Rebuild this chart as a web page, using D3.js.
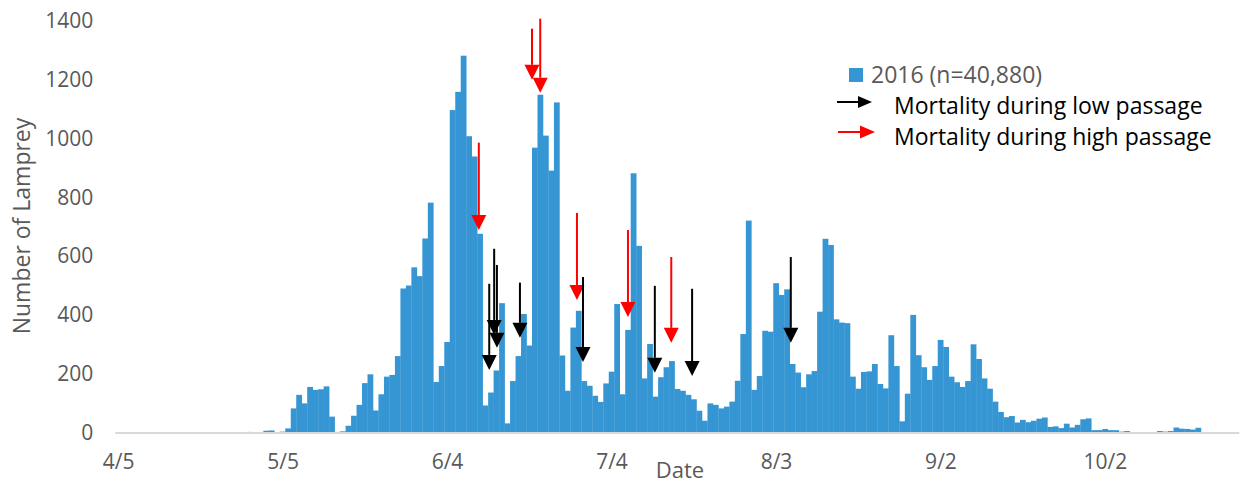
<!DOCTYPE html>
<meta charset="utf-8">
<script src="https://d3js.org/d3.v7.min.js"></script>
<body style="margin:0;background:#fff">
<svg width="1242" height="483"></svg>
<script>
  // daily lamprey counts, first value = 4/5/2016
  var counts = [
    0,0,0,0,0,0,0,0,0,0, 0,0,0,0,0,0,0,0,0,0, 0,0,0,0,
    2,0,0,6,7,0,3,14,
    82,128,99,155,145,147,157,54,2,4,
    23,57,94,168,198,75,130,190,196,260,
    490,500,562,532,660,782,172,226,308,1097,
    1159,1282,1008,939,676,92,136,211,440,31,
    175,260,403,296,969,1149,1010,891,1123,262,
    142,357,414,175,159,125,104,167,207,437,
    130,349,882,635,184,301,122,188,222,243,
    148,142,128,113,74,40,99,94,82,88,
    105,176,335,721,145,192,346,343,508,468,
    487,233,204,154,198,209,411,659,638,385,
    374,372,190,149,206,208,233,165,150,331,
    226,38,132,400,263,222,179,226,315,291,
    190,171,155,175,300,250,184,149,105,70,
    52,56,34,43,35,40,47,51,19,21,
    15,30,17,26,45,48,8,8,12,8,
    8,3,5,0,0,0,0,0,5,3,
    5,17,13,12,10,16,0,0,0,0,
    0,0,0
  ];
  var startDate = new Date(2016, 3, 5);
  var tickDays = [0, 30, 60, 90, 120, 150, 180];
  var yTicks = [0, 200, 400, 600, 800, 1000, 1200, 1400];

  // mortality arrows: day offset, start value, tip value
  var lowArrows = [
    [67.7, 506, 213], [68.6, 625, 332], [69.1, 570, 288], [73.3, 510, 322],
    [84.8, 529, 240], [97.9, 499, 203], [104.7, 489, 192], [122.7, 597, 305]
  ];
  var highArrows = [
    [75.5, 1374, 1200], [77.0, 1408, 1156], [65.8, 986, 689],
    [83.7, 747, 451], [93.0, 689, 393], [100.9, 597, 305]
  ];

  var barColor = '#3596d3',
      textColor = '#595959',
      font = '"Open Sans", sans-serif';

  var svg = d3.select('svg');
  var plotLeft = 115.3, plotRight = 1239.3, plotBottom = 432.5, plotTop = 21;

  var x = d3.scaleBand()
    .domain(d3.range(counts.length))
    .range([plotLeft, plotRight])
    .padding(0);

  var xDay = d3.scaleLinear()
    .domain([-0.5, counts.length - 0.5])
    .range([plotLeft, plotRight]);

  var y = d3.scaleLinear()
    .domain([0, 1400])
    .range([plotBottom, plotTop]);

  var fmt = d3.timeFormat('%-m/%-d');

  /* ----------- bars ----------- */

  svg.append('g')
    .selectAll('rect')
    .data(counts)
    .enter()
    .append('rect')
    .attr('x', function(d, i){ return x(i); })
    .attr('width', x.bandwidth() + 0.3)
    .attr('y', function(d){ return y(d); })
    .attr('height', function(d){ return plotBottom - y(d); })
    .attr('fill', barColor);

  /* ----------- axes ----------- */

  svg.append('line')
    .attr('x1', plotLeft).attr('x2', plotRight)
    .attr('y1', plotBottom + 0.5).attr('y2', plotBottom + 0.5)
    .attr('stroke', '#d9d9d9')
    .attr('stroke-width', 2);

  var yAxis = svg.append('g')
    .attr('transform', 'translate(' + plotLeft + ',0)')
    .call(d3.axisLeft(y).tickValues(yTicks).tickSize(0).tickPadding(22)
      .tickFormat(d3.format('d')));

  var xAxis = svg.append('g')
    .attr('transform', 'translate(0,' + plotBottom + ')')
    .call(d3.axisBottom(xDay).tickValues(tickDays).tickSize(0).tickPadding(22)
      .tickFormat(function(d){ return fmt(d3.timeDay.offset(startDate, d)); }));

  [yAxis, xAxis].forEach(function(a){
    a.select('.domain').remove();
    a.selectAll('text')
      .attr('fill', textColor)
      .style('font-family', font)
      .style('font-size', '21px');
  });

  svg.append('text')
    .attr('transform', 'translate(30,226) rotate(-90)')
    .attr('text-anchor', 'middle')
    .attr('fill', textColor)
    .style('font-family', font)
    .style('font-size', '23px')
    .text('Number of Lamprey');

  svg.append('text')
    .attr('x', 680)
    .attr('y', 478)
    .attr('text-anchor', 'middle')
    .attr('fill', textColor)
    .style('font-family', font)
    .style('font-size', '22px')
    .text('Date');

  /* ----------- arrows ----------- */

  function drawArrow(g, x0, y0, x1, y1, color, head, half){
    // line plus filled triangular head, tip at (x1, y1)
    var dx = x1 - x0, dy = y1 - y0, len = Math.sqrt(dx*dx + dy*dy);
    var ux = dx / len, uy = dy / len;
    var bx = x1 - ux * head, by = y1 - uy * head;
    g.append('line')
      .attr('x1', x0).attr('y1', y0)
      .attr('x2', bx).attr('y2', by)
      .attr('stroke', color)
      .attr('stroke-width', 2);
    g.append('path')
      .attr('d', 'M' + x1 + ',' + y1 +
        'L' + (bx - uy * half) + ',' + (by + ux * half) +
        'L' + (bx + uy * half) + ',' + (by - ux * half) + 'Z')
      .attr('fill', color);
  }

  var arrows = svg.append('g');
  highArrows.forEach(function(a){
    drawArrow(arrows, xDay(a[0]), y(a[1]), xDay(a[0]), y(a[2]), '#ff0000', 15, 7.5);
  });
  lowArrows.forEach(function(a){
    drawArrow(arrows, xDay(a[0]), y(a[1]), xDay(a[0]), y(a[2]), '#000000', 15, 7.5);
  });

  /* ----------- legend ----------- */

  var legend = svg.append('g');
  legend.append('rect')
    .attr('x', 849).attr('y', 68)
    .attr('width', 14).attr('height', 14)
    .attr('fill', barColor);
  legend.append('text')
    .attr('x', 871).attr('y', 83)
    .attr('fill', textColor)
    .style('font-family', font)
    .style('font-size', '23px')
    .text('2016 (n=40,880)');

  drawArrow(legend, 837, 102, 872, 102, '#000000', 14, 6);
  drawArrow(legend, 838, 132, 875, 132, '#ff0000', 15, 6.5);

  legend.append('text')
    .attr('x', 894).attr('y', 114)
    .attr('fill', '#000')
    .style('font-family', font)
    .style('font-size', '23px')
    .text('Mortality during low passage');
  legend.append('text')
    .attr('x', 894).attr('y', 145)
    .attr('fill', '#000')
    .style('font-family', font)
    .style('font-size', '23px')
    .text('Mortality during high passage');
</script>
</body>
